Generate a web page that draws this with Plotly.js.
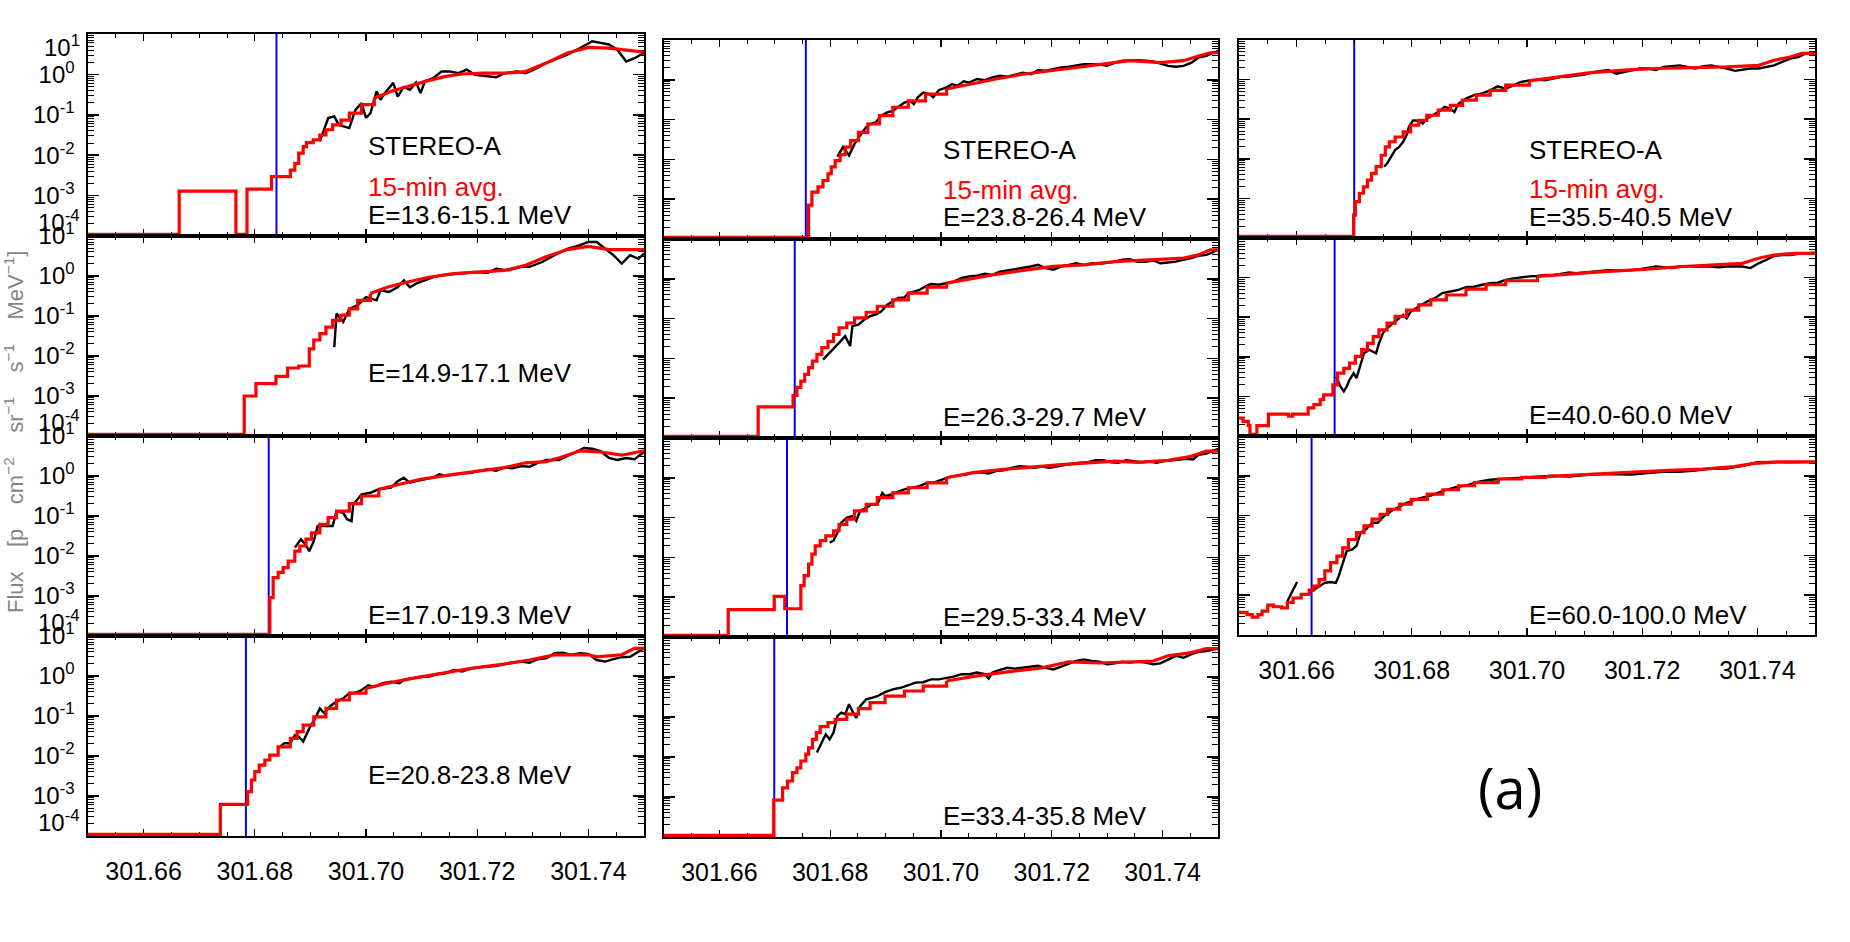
<!DOCTYPE html>
<html>
<head>
<meta charset="utf-8">
<script src="https://cdn.plot.ly/plotly-3.0.1.min.js"></script>
<style>
  html, body { margin: 0; padding: 0; background: #fff; }
  #plotlyCanvas { width: 1850px; height: 942px; }
</style>
</head>
<body>
<div id="plotlyCanvas"></div>
<script>
// ==========================================
// STEREO-A proton onsets, 11 energy channels
// time = fractional day of year, flux kept as log10 values
// ==========================================

// --- panel 1: E=13.6-15.1 MeV ---
const red1T = [301.6500, 301.6664, 301.6766, 301.6786, 301.6830, 301.6864, 301.6872, 301.6879, 301.6887, 301.6893, 301.6905, 301.6917, 301.6928, 301.6940, 301.6955, 301.6970, 301.6992, 301.7015, 301.7045, 301.7075, 301.7105, 301.7143, 301.7173, 301.7211, 301.7249, 301.7287, 301.7324, 301.7362, 301.7400, 301.7437, 301.7475, 301.7500];
const red1Log = [-3.96, -2.89, -3.96, -2.84, -2.53, -2.37, -2.20, -1.95, -1.79, -1.69, -1.62, -1.50, -1.37, -1.25, -1.13, -0.96, -0.75, -0.59, -0.42, -0.30, -0.18, -0.05, 0.01, 0.03, 0.03, 0.07, 0.28, 0.53, 0.67, 0.65, 0.59, 0.55];
const black1T = [301.6917, 301.6932, 301.6943, 301.6951, 301.6970, 301.6981, 301.6992, 301.7000, 301.7008, 301.7019, 301.7026, 301.7034, 301.7049, 301.7057, 301.7068, 301.7079, 301.7090, 301.7098, 301.7106, 301.7121, 301.7136, 301.7151, 301.7166, 301.7181, 301.7196, 301.7211, 301.7234, 301.7249, 301.7271, 301.7287, 301.7302, 301.7324, 301.7362, 301.7385, 301.7407, 301.7422, 301.7437, 301.7452, 301.7468, 301.7483, 301.7500];
const black1Log = [-1.66, -1.08, -1.04, -1.25, -1.33, -0.88, -0.71, -1.08, -0.96, -0.42, -0.63, -0.46, -0.21, -0.55, -0.31, -0.38, -0.20, -0.46, -0.17, -0.09, 0.07, 0.07, 0.03, 0.12, -0.01, -0.03, -0.07, 0.03, 0.07, 0.03, 0.12, 0.28, 0.49, 0.65, 0.82, 0.78, 0.74, 0.61, 0.32, 0.40, 0.53];

// --- panel 2: E=14.9-17.1 MeV ---
const red2T = [301.6500, 301.6781, 301.6802, 301.6838, 301.6859, 301.6879, 301.6898, 301.6906, 301.6917, 301.6928, 301.6940, 301.6955, 301.6970, 301.6985, 301.7008, 301.7038, 301.7075, 301.7113, 301.7158, 301.7211, 301.7249, 301.7287, 301.7324, 301.7362, 301.7400, 301.7437, 301.7500];
const red2Log = [-3.96, -3.00, -2.69, -2.51, -2.30, -2.25, -1.82, -1.60, -1.44, -1.28, -1.11, -0.98, -0.82, -0.61, -0.44, -0.28, -0.15, -0.03, 0.06, 0.10, 0.14, 0.27, 0.48, 0.66, 0.74, 0.66, 0.66];
const black2T = [301.6943, 301.6947, 301.6959, 301.6970, 301.6985, 301.7000, 301.7019, 301.7026, 301.7041, 301.7057, 301.7068, 301.7079, 301.7090, 301.7106, 301.7121, 301.7136, 301.7151, 301.7173, 301.7196, 301.7219, 301.7234, 301.7256, 301.7279, 301.7294, 301.7317, 301.7339, 301.7362, 301.7385, 301.7400, 301.7415, 301.7430, 301.7445, 301.7460, 301.7475, 301.7490, 301.7500];
const black2Log = [-1.78, -0.94, -1.15, -0.82, -0.73, -0.53, -0.61, -0.36, -0.40, -0.28, -0.11, -0.28, -0.19, -0.11, -0.03, 0.02, 0.04, 0.08, 0.10, 0.08, 0.18, 0.14, 0.23, 0.23, 0.35, 0.52, 0.68, 0.77, 0.85, 0.85, 0.68, 0.52, 0.31, 0.52, 0.43, 0.56];

// --- panel 3: E=17.0-19.3 MeV ---
const red3T = [301.6500, 301.6827, 301.6833, 301.6842, 301.6851, 301.6860, 301.6872, 301.6881, 301.6892, 301.6902, 301.6917, 301.6932, 301.6947, 301.6970, 301.6992, 301.7023, 301.7060, 301.7098, 301.7158, 301.7211, 301.7249, 301.7287, 301.7324, 301.7347, 301.7385, 301.7422, 301.7460, 301.7500];
const red3Log = [-3.96, -3.04, -2.54, -2.41, -2.29, -2.13, -1.88, -1.75, -1.58, -1.42, -1.21, -1.04, -0.88, -0.69, -0.50, -0.33, -0.21, -0.08, 0.04, 0.13, 0.21, 0.33, 0.36, 0.45, 0.63, 0.60, 0.52, 0.63];
const black3T = [301.6872, 301.6883, 301.6891, 301.6898, 301.6906, 301.6913, 301.6928, 301.6940, 301.6947, 301.6959, 301.6966, 301.6974, 301.6977, 301.6992, 301.7008, 301.7023, 301.7045, 301.7057, 301.7068, 301.7079, 301.7090, 301.7106, 301.7121, 301.7132, 301.7143, 301.7158, 301.7173, 301.7189, 301.7204, 301.7219, 301.7234, 301.7249, 301.7264, 301.7279, 301.7294, 301.7309, 301.7324, 301.7347, 301.7370, 301.7392, 301.7407, 301.7422, 301.7437, 301.7452, 301.7468, 301.7483, 301.7500];
const black3Log = [-1.79, -1.58, -1.71, -1.88, -1.63, -1.25, -1.25, -1.25, -0.88, -0.92, -1.08, -1.13, -0.71, -0.46, -0.42, -0.33, -0.29, -0.13, -0.04, -0.17, -0.13, -0.08, -0.04, 0.04, 0.00, 0.04, 0.06, 0.08, 0.13, 0.17, 0.13, 0.21, 0.19, 0.25, 0.23, 0.33, 0.40, 0.40, 0.55, 0.70, 0.68, 0.62, 0.45, 0.40, 0.45, 0.42, 0.60];

// --- panel 4: E=20.8-23.8 MeV ---
const red4T = [301.6500, 301.6738, 301.6787, 301.6794, 301.6800, 301.6808, 301.6818, 301.6827, 301.6842, 301.6864, 301.6876, 301.6887, 301.6906, 301.6928, 301.6947, 301.6970, 301.7000, 301.7038, 301.7083, 301.7136, 301.7189, 301.7249, 301.7294, 301.7339, 301.7400, 301.7415, 301.7460, 301.7483, 301.7500];
const red4Log = [-3.96, -3.21, -2.89, -2.60, -2.39, -2.23, -2.10, -1.98, -1.77, -1.56, -1.39, -1.23, -1.02, -0.81, -0.60, -0.43, -0.31, -0.18, -0.06, 0.07, 0.19, 0.30, 0.40, 0.53, 0.53, 0.48, 0.53, 0.69, 0.69];
const black4T = [301.6842, 301.6853, 301.6864, 301.6872, 301.6879, 301.6887, 301.6898, 301.6910, 301.6917, 301.6925, 301.6936, 301.6947, 301.6959, 301.6970, 301.6981, 301.6992, 301.7004, 301.7015, 301.7030, 301.7045, 301.7060, 301.7068, 301.7083, 301.7098, 301.7113, 301.7128, 301.7143, 301.7158, 301.7173, 301.7189, 301.7204, 301.7219, 301.7234, 301.7249, 301.7264, 301.7279, 301.7294, 301.7309, 301.7324, 301.7339, 301.7354, 301.7370, 301.7385, 301.7400, 301.7415, 301.7430, 301.7445, 301.7460, 301.7475, 301.7490, 301.7500];
const black4Log = [-1.81, -1.68, -1.68, -1.48, -1.52, -1.64, -1.31, -1.02, -0.81, -0.93, -0.75, -0.64, -0.56, -0.43, -0.42, -0.35, -0.23, -0.27, -0.18, -0.14, -0.18, -0.10, -0.06, -0.02, -0.02, 0.05, 0.07, 0.15, 0.11, 0.19, 0.22, 0.23, 0.25, 0.30, 0.33, 0.36, 0.33, 0.42, 0.44, 0.57, 0.58, 0.53, 0.57, 0.55, 0.40, 0.36, 0.42, 0.47, 0.48, 0.61, 0.69];

// --- panel 5: E=23.8-26.4 MeV ---
const red5T = [301.6500, 301.6761, 301.6767, 301.6778, 301.6787, 301.6796, 301.6802, 301.6809, 301.6818, 301.6827, 301.6837, 301.6851, 301.6868, 301.6889, 301.6913, 301.6941, 301.6972, 301.7010, 301.7051, 301.7099, 301.7148, 301.7203, 301.7251, 301.7300, 301.7341, 301.7396, 301.7438, 301.7465, 301.7486, 301.7500];
const red5Log = [-3.96, -3.15, -2.82, -2.69, -2.53, -2.36, -2.19, -2.03, -1.88, -1.69, -1.53, -1.32, -1.11, -0.90, -0.69, -0.53, -0.36, -0.23, -0.11, 0.02, 0.14, 0.24, 0.33, 0.41, 0.48, 0.43, 0.48, 0.60, 0.68, 0.68];
const black5T = [301.6813, 301.6823, 301.6834, 301.6844, 301.6854, 301.6865, 301.6872, 301.6882, 301.6892, 301.6903, 301.6913, 301.6923, 301.6934, 301.6944, 301.6951, 301.6958, 301.6968, 301.6979, 301.6986, 301.6996, 301.7010, 301.7020, 301.7030, 301.7041, 301.7051, 301.7065, 301.7079, 301.7093, 301.7106, 301.7120, 301.7134, 301.7148, 301.7162, 301.7175, 301.7189, 301.7203, 301.7217, 301.7231, 301.7244, 301.7258, 301.7272, 301.7286, 301.7300, 301.7314, 301.7327, 301.7341, 301.7355, 301.7369, 301.7383, 301.7396, 301.7410, 301.7424, 301.7438, 301.7452, 301.7465, 301.7479, 301.7493, 301.7500];
const black5Log = [-1.93, -1.69, -1.90, -1.61, -1.40, -1.19, -1.11, -1.07, -0.90, -0.82, -0.78, -0.68, -0.57, -0.53, -0.61, -0.44, -0.32, -0.36, -0.44, -0.26, -0.19, -0.11, -0.15, -0.04, -0.07, 0.02, -0.01, 0.06, 0.10, 0.08, 0.13, 0.18, 0.14, 0.24, 0.23, 0.27, 0.31, 0.33, 0.35, 0.39, 0.39, 0.38, 0.35, 0.43, 0.48, 0.49, 0.49, 0.48, 0.46, 0.41, 0.35, 0.33, 0.35, 0.43, 0.56, 0.60, 0.68, 0.73];

// --- panel 6: E=26.3-29.7 MeV ---
const red6T = [301.6500, 301.6670, 301.6733, 301.6740, 301.6747, 301.6754, 301.6761, 301.6768, 301.6776, 301.6785, 301.6796, 301.6806, 301.6816, 301.6830, 301.6844, 301.6865, 301.6885, 301.6913, 301.6941, 301.6975, 301.7010, 301.7051, 301.7093, 301.7148, 301.7203, 301.7258, 301.7314, 301.7438, 301.7465, 301.7486, 301.7500];
const red6Log = [-3.96, -3.22, -2.93, -2.73, -2.57, -2.40, -2.23, -2.07, -1.90, -1.73, -1.57, -1.40, -1.23, -1.11, -0.98, -0.84, -0.69, -0.53, -0.36, -0.21, -0.11, -0.01, 0.10, 0.21, 0.31, 0.35, 0.43, 0.52, 0.60, 0.73, 0.73];
const black6T = [301.6787, 301.6796, 301.6806, 301.6816, 301.6827, 301.6836, 301.6840, 301.6851, 301.6861, 301.6872, 301.6882, 301.6892, 301.6903, 301.6913, 301.6923, 301.6934, 301.6941, 301.6951, 301.6961, 301.6972, 301.6982, 301.6996, 301.7010, 301.7023, 301.7037, 301.7051, 301.7065, 301.7079, 301.7093, 301.7106, 301.7120, 301.7134, 301.7148, 301.7162, 301.7175, 301.7189, 301.7203, 301.7217, 301.7231, 301.7244, 301.7258, 301.7272, 301.7286, 301.7300, 301.7314, 301.7327, 301.7341, 301.7355, 301.7369, 301.7383, 301.7396, 301.7410, 301.7424, 301.7438, 301.7452, 301.7465, 301.7479, 301.7493, 301.7500];
const black6Log = [-2.03, -1.90, -1.78, -1.61, -1.44, -1.69, -1.19, -1.15, -1.03, -0.94, -0.90, -0.82, -0.65, -0.57, -0.48, -0.47, -0.36, -0.32, -0.28, -0.19, -0.13, -0.15, -0.11, -0.07, 0.02, 0.06, 0.08, 0.13, 0.10, 0.18, 0.21, 0.24, 0.27, 0.31, 0.35, 0.27, 0.23, 0.31, 0.35, 0.39, 0.35, 0.39, 0.38, 0.41, 0.43, 0.48, 0.49, 0.43, 0.43, 0.46, 0.39, 0.41, 0.43, 0.48, 0.52, 0.58, 0.60, 0.68, 0.73];

// --- panel 7: E=29.5-33.4 MeV ---
const red7T = [301.6500, 301.6616, 301.6699, 301.6718, 301.6747, 301.6753, 301.6761, 301.6767, 301.6773, 301.6782, 301.6792, 301.6806, 301.6816, 301.6830, 301.6844, 301.6865, 301.6885, 301.6913, 301.6941, 301.6975, 301.7010, 301.7058, 301.7113, 301.7169, 301.7217, 301.7272, 301.7314, 301.7355, 301.7410, 301.7452, 301.7479, 301.7500];
const red7Log = [-3.96, -3.31, -2.98, -3.29, -2.71, -2.46, -2.17, -1.92, -1.71, -1.58, -1.46, -1.33, -1.17, -1.04, -0.83, -0.67, -0.50, -0.38, -0.25, -0.13, 0.00, 0.13, 0.21, 0.28, 0.33, 0.38, 0.42, 0.39, 0.44, 0.54, 0.67, 0.67];
const black7T = [301.6799, 301.6806, 301.6813, 301.6820, 301.6830, 301.6840, 301.6847, 301.6854, 301.6865, 301.6875, 301.6885, 301.6894, 301.6899, 301.6910, 301.6920, 301.6934, 301.6948, 301.6961, 301.6975, 301.6989, 301.7003, 301.7017, 301.7030, 301.7044, 301.7058, 301.7072, 301.7086, 301.7099, 301.7113, 301.7127, 301.7141, 301.7155, 301.7169, 301.7182, 301.7196, 301.7210, 301.7224, 301.7238, 301.7251, 301.7265, 301.7279, 301.7293, 301.7307, 301.7320, 301.7334, 301.7348, 301.7362, 301.7376, 301.7389, 301.7403, 301.7417, 301.7431, 301.7445, 301.7455, 301.7465, 301.7479, 301.7493, 301.7500];
const black7Log = [-1.63, -1.58, -1.38, -1.13, -1.00, -0.96, -1.08, -0.83, -0.75, -0.67, -0.67, -0.38, -0.46, -0.42, -0.36, -0.29, -0.25, -0.21, -0.13, -0.11, -0.04, 0.03, 0.06, 0.08, 0.13, 0.14, 0.11, 0.17, 0.19, 0.25, 0.29, 0.28, 0.25, 0.28, 0.25, 0.29, 0.33, 0.36, 0.38, 0.39, 0.44, 0.44, 0.39, 0.38, 0.44, 0.42, 0.39, 0.41, 0.38, 0.42, 0.44, 0.46, 0.48, 0.46, 0.58, 0.61, 0.69, 0.73];

// --- panel 8: E=33.4-35.8 MeV ---
const red8T = [301.6500, 301.6698, 301.6714, 301.6723, 301.6732, 301.6740, 301.6747, 301.6756, 301.6761, 301.6768, 301.6775, 301.6782, 301.6796, 301.6809, 301.6830, 301.6851, 301.6872, 301.6899, 301.6934, 301.6968, 301.7010, 301.7065, 301.7120, 301.7182, 301.7231, 301.7286, 301.7383, 301.7410, 301.7452, 301.7479, 301.7500];
const red8Log = [-3.96, -3.08, -2.77, -2.60, -2.39, -2.27, -2.10, -1.93, -1.77, -1.56, -1.39, -1.24, -1.14, -1.06, -0.93, -0.79, -0.64, -0.48, -0.35, -0.23, -0.10, 0.03, 0.13, 0.23, 0.38, 0.35, 0.40, 0.53, 0.61, 0.71, 0.71];
const black8T = [301.6776, 301.6785, 301.6792, 301.6799, 301.6806, 301.6813, 301.6820, 301.6827, 301.6834, 301.6840, 301.6847, 301.6854, 301.6865, 301.6875, 301.6885, 301.6899, 301.6913, 301.6927, 301.6941, 301.6954, 301.6968, 301.6982, 301.6996, 301.7010, 301.7023, 301.7037, 301.7051, 301.7065, 301.7079, 301.7086, 301.7093, 301.7106, 301.7120, 301.7134, 301.7148, 301.7162, 301.7175, 301.7189, 301.7203, 301.7217, 301.7231, 301.7244, 301.7258, 301.7272, 301.7286, 301.7300, 301.7314, 301.7327, 301.7341, 301.7355, 301.7369, 301.7383, 301.7396, 301.7410, 301.7424, 301.7438, 301.7452, 301.7465, 301.7479, 301.7493, 301.7500];
const black8Log = [-1.89, -1.64, -1.43, -1.56, -1.39, -0.98, -0.89, -0.93, -0.68, -0.85, -1.02, -0.73, -0.56, -0.52, -0.48, -0.38, -0.31, -0.27, -0.21, -0.14, -0.13, -0.06, -0.06, -0.02, 0.01, 0.07, 0.07, 0.11, 0.07, -0.04, 0.11, 0.18, 0.23, 0.21, 0.23, 0.26, 0.28, 0.23, 0.19, 0.26, 0.34, 0.40, 0.44, 0.40, 0.38, 0.32, 0.34, 0.38, 0.36, 0.38, 0.36, 0.32, 0.34, 0.44, 0.53, 0.48, 0.57, 0.63, 0.65, 0.69, 0.71];

// --- panel 9: E=35.5-40.5 MeV ---
const red9T = [301.6500, 301.6699, 301.6702, 301.6709, 301.6716, 301.6723, 301.6730, 301.6738, 301.6747, 301.6754, 301.6761, 301.6771, 301.6785, 301.6798, 301.6812, 301.6826, 301.6846, 301.6867, 301.6888, 301.6912, 301.6936, 301.6963, 301.7004, 301.7052, 301.7107, 301.7169, 301.7224, 301.7347, 301.7402, 301.7429, 301.7457, 301.7477, 301.7500];
const red9Log = [-3.96, -3.42, -3.08, -2.87, -2.71, -2.54, -2.37, -2.20, -1.91, -1.70, -1.57, -1.45, -1.32, -1.15, -1.03, -0.90, -0.77, -0.65, -0.52, -0.39, -0.27, -0.14, -0.03, 0.07, 0.17, 0.24, 0.28, 0.32, 0.36, 0.49, 0.57, 0.66, 0.66];
const black9T = [301.6752, 301.6757, 301.6764, 301.6771, 301.6778, 301.6785, 301.6791, 301.6795, 301.6802, 301.6812, 301.6819, 301.6826, 301.6836, 301.6846, 301.6857, 301.6867, 301.6874, 301.6881, 301.6894, 301.6908, 301.6922, 301.6936, 301.6949, 301.6963, 301.6977, 301.6990, 301.7004, 301.7018, 301.7032, 301.7045, 301.7059, 301.7073, 301.7086, 301.7100, 301.7114, 301.7128, 301.7141, 301.7155, 301.7169, 301.7182, 301.7196, 301.7210, 301.7224, 301.7237, 301.7251, 301.7265, 301.7278, 301.7292, 301.7306, 301.7320, 301.7333, 301.7347, 301.7361, 301.7374, 301.7388, 301.7402, 301.7416, 301.7429, 301.7443, 301.7457, 301.7471, 301.7484, 301.7500];
const black9Log = [-2.20, -2.12, -1.95, -1.78, -1.70, -1.57, -1.40, -1.19, -1.03, -1.04, -1.11, -0.98, -0.90, -0.82, -0.69, -0.73, -0.82, -0.61, -0.48, -0.39, -0.35, -0.27, -0.17, -0.23, -0.14, -0.06, -0.02, 0.00, -0.02, 0.03, 0.07, 0.08, 0.11, 0.13, 0.19, 0.22, 0.24, 0.15, 0.19, 0.24, 0.28, 0.28, 0.24, 0.32, 0.34, 0.36, 0.32, 0.28, 0.34, 0.36, 0.32, 0.28, 0.22, 0.24, 0.28, 0.28, 0.32, 0.36, 0.45, 0.53, 0.57, 0.66, 0.67];

// --- panel 10: E=40.0-60.0 MeV ---
const red10T = [301.6500, 301.6507, 301.6516, 301.6519, 301.6531, 301.6551, 301.6586, 301.6593, 301.6620, 301.6630, 301.6641, 301.6647, 301.6663, 301.6671, 301.6682, 301.6692, 301.6702, 301.6713, 301.6723, 301.6733, 301.6743, 301.6757, 301.6771, 301.6791, 301.6812, 301.6833, 301.6860, 301.6894, 301.6929, 301.6963, 301.7018, 301.7073, 301.7134, 301.7203, 301.7271, 301.7374, 301.7402, 301.7429, 301.7464, 301.7500];
const red10Log = [-3.55, -3.63, -3.74, -3.96, -3.74, -3.45, -3.50, -3.45, -3.29, -3.21, -3.08, -2.96, -2.71, -2.41, -2.29, -2.16, -1.99, -1.82, -1.66, -1.49, -1.32, -1.15, -0.98, -0.82, -0.69, -0.56, -0.44, -0.29, -0.18, -0.08, 0.03, 0.09, 0.15, 0.21, 0.28, 0.36, 0.49, 0.57, 0.61, 0.61];
const black10T = [301.6669, 301.6676, 301.6682, 301.6687, 301.6692, 301.6699, 301.6704, 301.6709, 301.6713, 301.6717, 301.6726, 301.6733, 301.6738, 301.6743, 301.6750, 301.6757, 301.6764, 301.6774, 301.6785, 301.6791, 301.6798, 301.6812, 301.6826, 301.6840, 301.6853, 301.6867, 301.6881, 301.6894, 301.6908, 301.6922, 301.6936, 301.6949, 301.6963, 301.6977, 301.6990, 301.7004, 301.7018, 301.7032, 301.7045, 301.7059, 301.7073, 301.7086, 301.7100, 301.7114, 301.7128, 301.7141, 301.7155, 301.7169, 301.7182, 301.7196, 301.7210, 301.7224, 301.7237, 301.7251, 301.7265, 301.7278, 301.7292, 301.7306, 301.7320, 301.7333, 301.7347, 301.7361, 301.7374, 301.7388, 301.7402, 301.7416, 301.7429, 301.7443, 301.7457, 301.7471, 301.7484, 301.7500];
const black10Log = [-2.50, -2.75, -2.87, -2.75, -2.58, -2.41, -2.54, -2.29, -2.12, -1.91, -1.82, -1.87, -1.91, -1.66, -1.40, -1.28, -1.19, -1.07, -0.94, -1.03, -0.86, -0.73, -0.61, -0.52, -0.39, -0.35, -0.31, -0.24, -0.23, -0.18, -0.14, -0.13, -0.06, -0.02, 0.01, 0.03, 0.04, 0.07, 0.06, 0.09, 0.13, 0.11, 0.13, 0.15, 0.18, 0.19, 0.18, 0.18, 0.19, 0.21, 0.24, 0.28, 0.26, 0.24, 0.28, 0.29, 0.28, 0.28, 0.28, 0.26, 0.28, 0.28, 0.28, 0.24, 0.36, 0.45, 0.55, 0.57, 0.57, 0.60, 0.61, 0.63];

// --- panel 11: E=60.0-100.0 MeV ---
const red11T = [301.6500, 301.6514, 301.6523, 301.6533, 301.6540, 301.6550, 301.6560, 301.6574, 301.6584, 301.6594, 301.6608, 301.6622, 301.6629, 301.6639, 301.6649, 301.6659, 301.6670, 301.6680, 301.6690, 301.6704, 301.6717, 301.6731, 301.6745, 301.6758, 301.6779, 301.6799, 301.6827, 301.6854, 301.6881, 301.6909, 301.6950, 301.6991, 301.7032, 301.7100, 301.7168, 301.7237, 301.7305, 301.7360, 301.7394, 301.7442, 301.7500];
const red11Log = [-3.43, -3.49, -3.55, -3.49, -3.40, -3.25, -3.29, -3.32, -3.18, -3.07, -2.98, -2.87, -2.77, -2.61, -2.39, -2.18, -2.02, -1.81, -1.60, -1.43, -1.26, -1.09, -0.97, -0.84, -0.71, -0.59, -0.46, -0.35, -0.25, -0.17, -0.08, -0.04, -0.02, 0.04, 0.08, 0.13, 0.17, 0.23, 0.31, 0.35, 0.35];
const black11T = [301.6584, 301.6601, null, 301.6626, 301.6635, 301.6649, 301.6659, 301.6668, 301.6673, 301.6680, 301.6687, 301.6697, 301.6704, 301.6711, 301.6721, 301.6731, 301.6741, 301.6752, 301.6765, 301.6779, 301.6793, 301.6813, 301.6834, 301.6854, 301.6875, 301.6895, 301.6916, 301.6936, 301.6963, 301.6991, 301.7018, 301.7045, 301.7073, 301.7100, 301.7127, 301.7155, 301.7182, 301.7210, 301.7237, 301.7264, 301.7292, 301.7319, 301.7346, 301.7374, 301.7401, 301.7428, 301.7456, 301.7500];
const black11Log = [-3.15, -2.66, null, -2.90, -2.82, -2.69, -2.67, -2.69, -2.52, -2.18, -1.89, -1.85, -1.76, -1.43, -1.34, -1.18, -1.18, -1.01, -0.88, -0.77, -0.67, -0.57, -0.49, -0.38, -0.29, -0.24, -0.15, -0.10, -0.07, -0.04, -0.02, 0.00, -0.02, 0.02, 0.04, 0.04, 0.03, 0.07, 0.10, 0.10, 0.13, 0.18, 0.18, 0.25, 0.34, 0.35, 0.34, 0.35];

// onset times (blue lines); panel 2 has none
const onsetTimes = [301.6839, null, 301.6825, 301.6784, 301.6756, 301.6736, 301.6722, 301.6699, 301.6700, 301.6666, 301.6626];
const energyLabels = ["E=13.6-15.1 MeV", "E=14.9-17.1 MeV", "E=17.0-19.3 MeV", "E=20.8-23.8 MeV",
  "E=23.8-26.4 MeV", "E=26.3-29.7 MeV", "E=29.5-33.4 MeV", "E=33.4-35.8 MeV",
  "E=35.5-40.5 MeV", "E=40.0-60.0 MeV", "E=60.0-100.0 MeV"];
const yTickVals = [1e-4, 1e-3, 1e-2, 1e-1, 1, 10];
const yTickText = ["", "10<sup>-3</sup>", "10<sup>-2</sup>", "10<sup>-1</sup>", "10<sup>0</sup>", "10<sup>1</sup>"];
const xRange = [301.65, 301.75];

const redTimes = [red1T, red2T, red3T, red4T, red5T, red6T, red7T, red8T, red9T, red10T, red11T];
const redLogs = [red1Log, red2Log, red3Log, red4Log, red5Log, red6Log, red7Log, red8Log, red9Log, red10Log, red11Log];
const blackTimes = [black1T, black2T, black3T, black4T, black5T, black6T, black7T, black8T, black9T, black10T, black11T];
const blackLogs = [black1Log, black2Log, black3Log, black4Log, black5Log, black6Log, black7Log, black8Log, black9Log, black10Log, black11Log];

// --- page geometry (pixels) ---
const W = 1850, H = 942;
const colLeft = [88, 664, 1239];
const colRight = [644, 1218, 1815];
const rowEdges = [[34, 236, 436, 636, 836], [40, 239, 438, 637, 837], [40, 238, 436, 635]];
const labelY = [0.104, 0.315, 0.105, 0.305, 0.11, 0.105, 0.10, 0.105, 0.106, 0.106, 0.10];
const SMOOTH_FROM = 301.700; // the 15-min steps get too fine to see after this

const FONT = "Liberation Sans, Arial, Helvetica, sans-serif";
const toFlux = (arr) => arr.map((v) => (v === null ? null : Math.pow(10, v)));

// minor log ticks 2..9 per decade
const minorVals = [];
for (let d = -4; d < 1; d++) {
  for (let m = 2; m <= 9; m++) minorVals.push(m * Math.pow(10, d));
}

function buildChart() {
  const traces = [];
  const shapes = [];
  const annotations = [];
  const layout = {
    width: W,
    height: H,
    margin: { l: 0, r: 0, t: 0, b: 0 },
    paper_bgcolor: "#ffffff",
    plot_bgcolor: "rgba(0,0,0,0)",
    showlegend: false,
    font: { family: FONT, color: "#000" },
  };

  let idx = 0;
  for (let c = 0; c < 3; c++) {
    const rows = rowEdges[c].length - 1;
    for (let r = 0; r < rows; r++) {
      const n = idx + 1;
      const s = n === 1 ? "" : String(n);
      const xDom = [colLeft[c] / W, colRight[c] / W];
      const yDom = [1 - rowEdges[c][r + 1] / H, 1 - rowEdges[c][r] / H];
      const isBottom = r === rows - 1;

      layout["xaxis" + s] = {
        domain: xDom,
        anchor: "y" + s,
        range: xRange,
        showgrid: false,
        zeroline: false,
        showline: true,
        linecolor: "#000",
        linewidth: 1.6,
        mirror: "ticks",
        ticks: "inside",
        ticklen: 7,
        tickwidth: 1.3,
        tickcolor: "#000",
        tick0: 301.66,
        dtick: 0.02,
        tickformat: ".2f",
        showticklabels: isBottom,
        ticklabelstandoff: 12,
        tickfont: { family: FONT, size: 25, color: "#000" },
        minor: { ticks: "inside", ticklen: 4, tickwidth: 1, tickcolor: "#000", dtick: 0.005, tick0: 301.65, showgrid: false },
        layer: "below traces",
        fixedrange: true,
      };
      // the top panel's 10^1 is drawn as a nudged annotation instead
      const ticktext = yTickText.slice();
      if (r === 0) ticktext[ticktext.length - 1] = "";
      layout["yaxis" + s] = {
        domain: yDom,
        anchor: "x" + s,
        type: "log",
        range: [-4, 1],
        showgrid: false,
        zeroline: false,
        showline: true,
        linecolor: "#000",
        linewidth: 1.6,
        mirror: "ticks",
        ticks: "inside",
        ticklen: 11,
        tickwidth: 1.6,
        tickcolor: "#000",
        tickmode: "array",
        tickvals: yTickVals,
        ticktext: ticktext,
        showticklabels: c === 0,
        ticklabelstandoff: 7,
        tickfont: { family: FONT, size: 24, color: "#000" },
        minor: { ticks: "inside", ticklen: 6, tickwidth: 1, tickcolor: "#000", tickmode: "array", tickvals: minorVals, showgrid: false },
        layer: "below traces",
        fixedrange: true,
      };

      // 1-min data (black)
      traces.push({
        x: blackTimes[idx],
        y: toFlux(blackLogs[idx]),
        xaxis: "x" + s,
        yaxis: "y" + s,
        type: "scatter",
        mode: "lines",
        connectgaps: false,
        line: { color: "#000000", width: 2.4 },
        hoverinfo: "skip",
      });

      // 15-min average (red): stairs through the onset, plain line after
      const tt = redTimes[idx];
      const ff = toFlux(redLogs[idx]);
      let k = tt.findIndex((v) => v >= SMOOTH_FROM);
      if (k < 0) k = tt.length - 1;
      traces.push({
        x: tt.slice(0, k + 1),
        y: ff.slice(0, k + 1),
        xaxis: "x" + s,
        yaxis: "y" + s,
        type: "scatter",
        mode: "lines",
        line: { color: "#ff0000", width: 3.2, shape: "hv" },
        hoverinfo: "skip",
      });
      traces.push({
        x: tt.slice(k),
        y: ff.slice(k),
        xaxis: "x" + s,
        yaxis: "y" + s,
        type: "scatter",
        mode: "lines",
        line: { color: "#ff0000", width: 3.2, shape: "linear" },
        hoverinfo: "skip",
      });

      if (onsetTimes[idx] !== null) {
        shapes.push({
          type: "line",
          xref: "x" + s,
          yref: "y" + s + " domain",
          x0: onsetTimes[idx],
          x1: onsetTimes[idx],
          y0: 0,
          y1: 1,
          line: { color: "#0000ff", width: 2 },
          layer: "below",
        });
      }

      annotations.push({
        xref: "x" + s,
        yref: "y" + s + " domain",
        x: 301.70,
        y: labelY[idx],
        xanchor: "left",
        yanchor: "middle",
        text: energyLabels[idx],
        showarrow: false,
        font: { family: FONT, size: 26, color: "#000" },
      });
      if (r === 0) {
        annotations.push({
          xref: "x" + s, yref: "y" + s + " domain", x: 301.70, y: 0.445,
          xanchor: "left", yanchor: "middle", text: "STEREO-A", showarrow: false,
          font: { family: FONT, size: 26, color: "#000" },
        });
        annotations.push({
          xref: "x" + s, yref: "y" + s + " domain", x: 301.70, y: 0.245,
          xanchor: "left", yanchor: "middle", text: "15-min avg.", showarrow: false,
          font: { family: FONT, size: 26, color: "#ff0000" },
        });
      }
      // edge tick labels, nudged inward like the original
      if (c === 0) {
        if (r === 0) {
          annotations.push({
            xref: "x" + s + " domain", yref: "y" + s, x: 0, y: 1,
            xanchor: "right", yanchor: "middle", xshift: -6, yshift: -12,
            text: "10<sup>1</sup>", showarrow: false,
            font: { family: FONT, size: 24, color: "#000" },
          });
        }
        annotations.push({
          xref: "x" + s + " domain", yref: "y" + s, x: 0, y: -4,
          xanchor: "right", yanchor: "middle", xshift: -6, yshift: 15,
          text: "10<sup>-4</sup>", showarrow: false,
          font: { family: FONT, size: 24, color: "#000" },
        });
      }
      idx++;
    }
  }

  // shared y title and panel tag
  const gap = "\u00a0\u00a0\u00a0\u00a0";
  annotations.push({
    xref: "paper", yref: "paper", x: 14 / W, y: 1 - 432 / H,
    xanchor: "center", yanchor: "middle", textangle: -90, showarrow: false,
    text: "Flux" + gap + "[p" + gap + "cm<sup>\u22122</sup>" + gap + "sr<sup>\u22121</sup>" + gap + "s<sup>\u22121</sup>" + gap + "MeV<sup>\u22121</sup>]",
    font: { family: FONT, size: 22, color: "#858585" },
  });
  annotations.push({
    xref: "paper", yref: "paper", x: 1510 / W, y: 1 - 787 / H,
    xanchor: "center", yanchor: "middle", showarrow: false,
    text: "(a)",
    font: { family: "Open Sans, Noto Sans, sans-serif", size: 56, color: "#000" },
  });

  layout.shapes = shapes;
  layout.annotations = annotations;

  const config = { responsive: false, displayModeBar: false, staticPlot: true };
  Plotly.newPlot("plotlyCanvas", traces, layout, config);
}

window.onload = () => {
  buildChart();
};
</script>
</body>
</html>
